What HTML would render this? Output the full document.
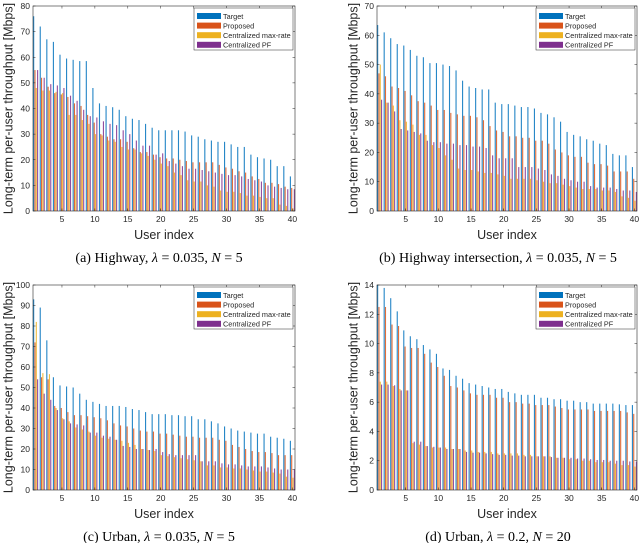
<!DOCTYPE html>
<html><head><meta charset="utf-8"><style>
html,body{margin:0;padding:0;background:#fff;}
svg{display:block;font-family:"Liberation Sans",sans-serif;}
</style></head><body>
<svg id="fig" width="640" height="543" viewBox="0 0 640 543" xmlns="http://www.w3.org/2000/svg"></svg>
<script>
const seriesNames = ["Target","Proposed","Centralized max-rate","Centralized PF"];
const seriesColors = ["#0072BD","#D95319","#EDB120","#7E2F8E"];
const xTicks = [5,10,15,20,25,30,35,40];

const aTarget = [76,72,67,66,61,59.5,59,58.5,58.5,48,42,41,40.5,39.5,37,36,35.5,34,32.5,31.5,31.5,31.5,31.5,31,29.5,29,28,27.5,27,27,26,25,25,22,21,20.5,20,17.5,17.5,13.5];
const aProposed = [55,52,48.5,46,45.5,44.5,42,41,37.5,34.5,30,29,28,28,27,24.5,23,23,22,21,20.5,20.5,20,19.5,19,19,19,19,18,17,16.5,15.5,15,13.5,12.5,11,11,10.5,9.5,9];
const aMaxRate = [48,47,47,46.5,46,37.5,37.5,35.5,34,30,29.5,27.5,27,25,24,24,22.5,21.5,20,18.5,17.5,15,14,12,11.5,11.5,10,9.5,8,7.5,7.5,7,6,6,5.5,5,5,2.5,2,1];
const aPF = [55,52,49.5,49,48,45,43,39.5,37,36.5,35,34,33.5,31.5,30,27.5,25.5,25.5,22,22.5,19.5,18.5,17.5,16.5,16.5,16,15.5,15,14.5,14,14,13.5,12.5,12,11.5,10,9.5,9,8.5,8.5];

const bTarget = [63.5,61,59,57,56.5,55,53,52.5,50.5,50.5,50,49.5,48,44.5,42.5,42,41.5,41.5,37,36.5,36.5,36,35.5,35.5,35,33.5,33,32,30.5,27,26,25.5,24.5,24,23,22.5,19.5,19,19,15];
const bProposed = [47,46,42.5,42,41,39.5,37.5,37,36,34.5,34.5,33.5,33,32.5,32.5,32,31,29,27.5,27,25.5,25.5,25,25,24,24,23,21,20,19,18.5,18.5,16.5,16,16,15.5,13.5,13.5,13.5,11];
const bMaxRate = [50,37,36,31,30.5,29.5,26,26,22.5,21.5,19,17.5,14.5,14,14,13.5,13,13,12.5,12,11,11,11,11,10.5,10,9.5,9.5,9,8.5,8,7.5,7.5,7.5,7,7,6.5,5,4.5,3.5];
const bPF = [38,37,34,28,27.5,27,26.5,24,23.5,23.5,23,23,22.5,22.5,22,22,21.5,19,18,18,18,15,15,15,14.5,14,12.5,12,11,10.5,10,10,8.5,8,8,8,7.5,7,7,6.5];

const cTarget = [93,89,73,55,51,50.5,50,47,44,43,42,41,41,41,40.5,39.5,39,38,37,37,37,36.5,36.5,36,36,34.5,34.5,33.5,32.5,31,30,29,28.5,28,27.5,27.5,26,25.5,25,24];
const cProposed = [72,55,54,41,40,38,36.5,36.5,36,35.5,35,34,32.5,31.5,31,30,29,28.5,28.5,27.5,27.5,27,26.5,26,26,25.5,25.5,25.5,24.5,24,22,21,20,19,18.5,18.5,18,17,17,17];
const cMaxRate = [82,57,56.5,40,35,33.5,30.5,29.5,28.5,26.5,25.5,25,24.5,24,23,22,20,19.5,19,17,16.5,16,15.5,15,14.5,14,12,12,11,11,10.5,10.5,10,9.5,9,9,8.5,8,6.5,6];
const cPF = [54,47,44,39,34.5,32.5,32,31.5,28,28,26.5,26,24.5,21.5,21,20,20,19.5,20,18.5,17.5,17,17,17,17,14,14,14,13,12.5,12.5,12,11.5,11.5,11.5,11,10.5,10,10,10];

const dTarget = [14,13.8,13.1,12.2,10.9,10.5,10.3,9.9,9.6,9.3,8.3,8.2,7.8,7.6,7.3,7.2,7.1,7.0,6.9,6.9,6.7,6.6,6.5,6.5,6.5,6.3,6.3,6.2,6.2,6.1,6.1,6.0,6.0,5.9,5.9,5.9,5.9,5.85,5.8,5.8];
const dProposed = [12.5,12.5,11.3,11.2,9.8,9.7,9.7,9.3,8.7,8.4,7.8,7.1,7.0,6.8,6.6,6.5,6.5,6.5,6.3,6.3,6.0,6.0,5.9,5.9,5.8,5.8,5.8,5.7,5.6,5.5,5.5,5.5,5.5,5.4,5.4,5.4,5.4,5.4,5.3,5.2];
const dMaxRate = [7.4,7.4,7.1,6.9,6.8,3.2,3.1,3.0,2.9,2.9,2.9,2.8,2.8,2.7,2.7,2.6,2.6,2.6,2.5,2.5,2.5,2.5,2.4,2.4,2.3,2.3,2.3,2.2,2.2,2.1,2.1,2.0,2.0,1.9,1.9,1.9,1.8,1.7,1.7,1.6];
const dPF = [7.2,7.2,7.15,6.8,6.8,3.3,3.3,3.0,2.95,2.9,2.8,2.8,2.8,2.6,2.55,2.55,2.5,2.45,2.4,2.4,2.35,2.35,2.3,2.3,2.3,2.3,2.25,2.2,2.2,2.2,2.15,2.15,2.1,2.05,2.05,2.0,2.0,2.0,1.95,1.95];

const aYTicks = [0,10,20,30,40,50,60,70,80];
const bYTicks = [0,10,20,30,40,50,60,70];
const cYTicks = [0,10,20,30,40,50,60,70,80,90,100];
const dYTicks = [0,2,4,6,8,10,12,14];

const NS = "http://www.w3.org/2000/svg";
const fig = document.getElementById("fig");
function mk(tag, attrs, parent){
  const e = document.createElementNS(NS, tag);
  for (const k in attrs) e.setAttribute(k, attrs[k]);
  (parent||fig).appendChild(e);
  return e;
}

const panels = [
  {id:"a", x0:33, x1:295, y0:6, y1:211, ymax:80, yt:aYTicks, data:[aTarget,aProposed,aMaxRate,aPF], cap:["(a) Highway, ","λ"," = 0.035, ","N"," = 5"], ylx:8, xly:239, capy:262, capx:159},
  {id:"b", x0:377, x1:637, y0:6, y1:211, ymax:70, yt:bYTicks, data:[bTarget,bProposed,bMaxRate,bPF], cap:["(b) Highway intersection, ","λ"," = 0.035, ","N"," = 5"], ylx:353, xly:239, capy:262, capx:498},
  {id:"c", x0:33, x1:295, y0:285, y1:490, ymax:100, yt:cYTicks, data:[cTarget,cProposed,cMaxRate,cPF], cap:["(c) Urban, ","λ"," = 0.035, ","N"," = 5"], ylx:8, xly:518, capy:541, capx:159},
  {id:"d", x0:377, x1:637, y0:285, y1:490, ymax:14, yt:dYTicks, data:[dTarget,dProposed,dMaxRate,dPF], cap:["(d) Urban, ","λ"," = 0.2, ","N"," = 20"], ylx:353, xly:518, capy:541, capx:498}
];

panels.forEach(p => {
  const g = mk("g", {});
  
  
  const xmin = 0.6, xmax = 40.4;
  const xs = v => p.x0 + (v - xmin) / (xmax - xmin) * (p.x1 - p.x0);
  const ys = v => p.y1 - v / p.ymax * (p.y1 - p.y0);
  mk("rect", {x:p.x0, y:p.y0, width:p.x1-p.x0, height:p.y1-p.y0, fill:"#fff"}, g);
  const offs = [-0.3,-0.1,0.1,0.3];
  const bw = 0.17;
  p.data.forEach((arr, s) => {
    const sg = mk("g", {}, g);
    
    
    arr.forEach((v, i) => {
      const xc = i + 1 + offs[s];
      const xa = xs(xc - bw/2), xb = xs(xc + bw/2);
      const r = mk("rect", {x:xa, y:ys(v), width:Math.max(0.8, xb-xa), height:ys(0)-ys(v), fill:seriesColors[s], "fill-opacity":"0.85"}, sg);
      
      
    });
  });
  mk("rect", {x:p.x0, y:p.y0, width:p.x1-p.x0, height:p.y1-p.y0, fill:"none", stroke:"#262626", "stroke-width":0.6}, g);
  p.yt.forEach(t => {
    const y = ys(t);
    mk("line", {x1:p.x0, x2:p.x0+2.5, y1:y, y2:y, stroke:"#262626", "stroke-width":0.5}, g);
    mk("line", {x1:p.x1, x2:p.x1-2.5, y1:y, y2:y, stroke:"#262626", "stroke-width":0.5}, g);
    const tx = mk("text", {x:p.x0-3, y:y+3, "text-anchor":"end", "font-size":"8.5", fill:"#262626"}, g);
    tx.textContent = t;
    
    
  });
  xTicks.forEach(t => {
    const x = xs(t);
    mk("line", {x1:x, x2:x, y1:p.y1, y2:p.y1-2.5, stroke:"#262626", "stroke-width":0.5}, g);
    mk("line", {x1:x, x2:x, y1:p.y0, y2:p.y0+2.5, stroke:"#262626", "stroke-width":0.5}, g);
    const tx = mk("text", {x:x, y:p.y1+11, "text-anchor":"middle", "font-size":"8.5", fill:"#262626"}, g);
    tx.textContent = t;
    
    
  });
  const yl = mk("text", {x:0, y:0, "text-anchor":"middle", "font-size":"12.5", fill:"#262626", transform:`translate(${p.ylx+4.5},${(p.y0+p.y1)/2}) rotate(-90)`}, g);
  yl.textContent = "Long-term per-user throughput [Mbps]";
  
  
  const xl = mk("text", {x:(p.x0+p.x1)/2, y:p.xly, "text-anchor":"middle", "font-size":"12.5", fill:"#262626"}, g);
  xl.textContent = "User index";
  
  
  const lx1 = p.x1 - 2, lx0 = lx1 - 99, ly0 = p.y0 + 2;
  const lg = mk("g", {}, g);
  
  
  mk("rect", {x:lx0, y:ly0, width:99, height:42, fill:"#fff", stroke:"#262626", "stroke-width":0.5}, lg);
  seriesNames.forEach((n, s) => {
    const yy = ly0 + 8 + s * 9.6;
    mk("rect", {x:lx0+3, y:yy-3, width:24, height:6, fill:seriesColors[s]}, lg);
    const t = mk("text", {x:lx0+29, y:yy+2.8, "font-size":"7.3", fill:"#262626"}, lg);
    t.textContent = n;
    
    
  });
  const cap = mk("text", {x:p.capx, y:p.capy, "text-anchor":"middle", "font-size":"14", fill:"#000", "font-family":"Liberation Serif, serif"}, g);
  
  
  p.cap.forEach((s, i) => {
    const ts = mk("tspan", (i===1||i===3) ? {"font-style":"italic"} : {}, cap);
    ts.textContent = s;
  });
});
</script>
</body></html>
